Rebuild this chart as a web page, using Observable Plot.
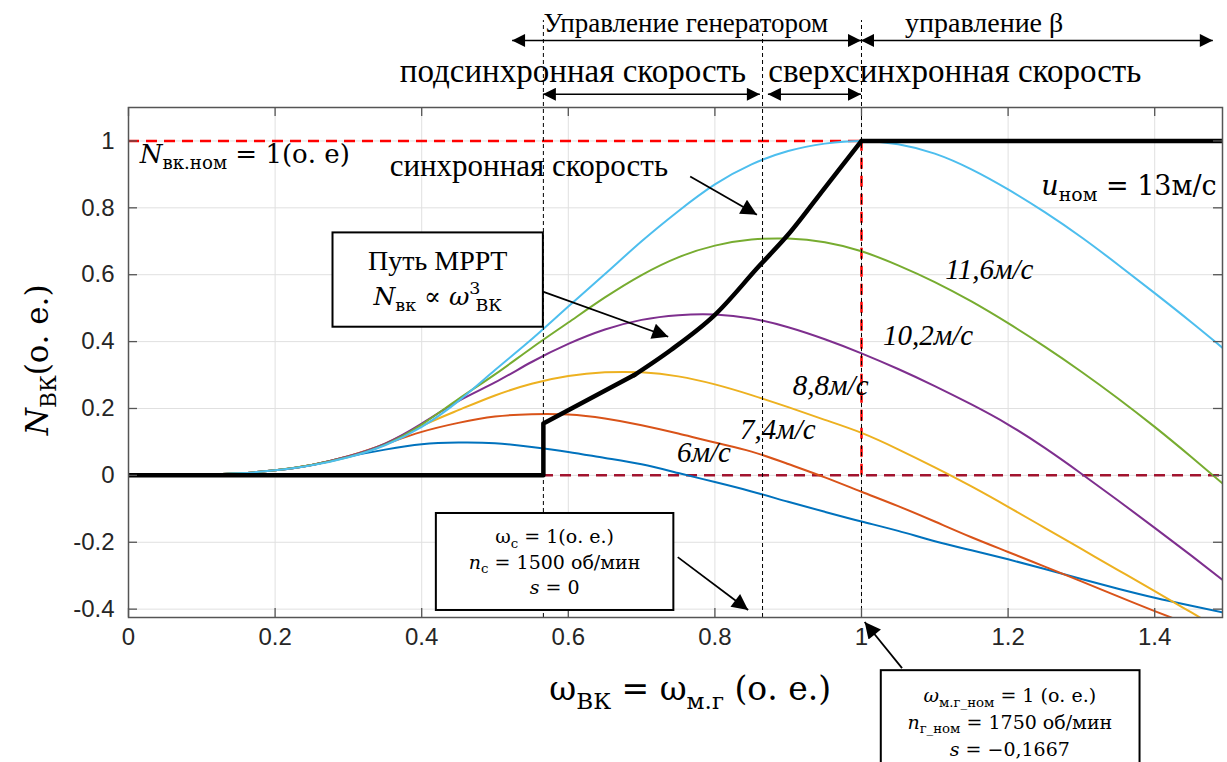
<!DOCTYPE html>
<html>
<head>
<meta charset="utf-8">
<script src="https://cdn.jsdelivr.net/npm/d3@7"></script>
<script src="https://cdn.jsdelivr.net/npm/@observablehq/plot@0.6"></script>
<style>
html,body{margin:0;padding:0;background:#fff;}
#chart{width:1227px;height:762px;overflow:hidden;}
</style>
</head>
<body>
<div id="chart"></div>
<script>
// ---------- data ----------
const xTicks = [0, 0.2, 0.4, 0.6, 0.8, 1, 1.2, 1.4];
const yTicks = [-0.4, -0.2, 0, 0.2, 0.4, 0.6, 0.8, 1];

const speeds = ["6м/с", "7,4м/с", "8,8м/с", "10,2м/с", "11,6м/с", "13м/с"];
const speedColors = ["#0072BD", "#D95319", "#EDB120", "#7E2F8E", "#77AC30", "#4DBEEE"];

const omega = [0,0.05,0.1,0.15,0.2,0.25,0.3,0.35,0.4,0.45,0.5,0.55,0.6,0.65,0.7,0.75,0.8,0.85,0.9,0.95,1,1.05,1.1,1.15,1.2,1.25,1.3,1.35,1.4,1.45,1.5];
const power6   = [0,0,0.002,0.006,0.015,0.031,0.056,0.077,0.093,0.098,0.096,0.085,0.070,0.052,0.033,0.007,-0.020,-0.048,-0.079,-0.109,-0.138,-0.166,-0.197,-0.224,-0.251,-0.280,-0.310,-0.339,-0.366,-0.390,-0.413];
const power74  = [0,0,0.002,0.006,0.015,0.031,0.057,0.093,0.130,0.157,0.176,0.183,0.182,0.170,0.150,0.125,0.098,0.071,0.034,-0.006,-0.049,-0.092,-0.138,-0.185,-0.229,-0.273,-0.317,-0.362,-0.406,-0.448,-0.490];
const power88  = [0,0,0.002,0.006,0.015,0.031,0.057,0.095,0.148,0.195,0.239,0.274,0.297,0.308,0.308,0.296,0.272,0.240,0.204,0.166,0.127,0.078,0.024,-0.033,-0.094,-0.157,-0.220,-0.283,-0.346,-0.410,-0.474];
const power102 = [0,0,0.002,0.006,0.015,0.031,0.057,0.095,0.155,0.222,0.278,0.339,0.393,0.436,0.465,0.479,0.481,0.469,0.443,0.407,0.365,0.318,0.267,0.212,0.152,0.082,0.005,-0.075,-0.157,-0.240,-0.325];
const power116 = [0,0,0.002,0.006,0.015,0.031,0.055,0.092,0.152,0.228,0.302,0.381,0.457,0.532,0.599,0.652,0.687,0.705,0.708,0.697,0.670,0.628,0.578,0.520,0.455,0.385,0.310,0.230,0.145,0.055,-0.038];
const power13  = [0,0,0.002,0.006,0.015,0.030,0.054,0.090,0.145,0.222,0.315,0.407,0.505,0.602,0.700,0.790,0.870,0.930,0.970,0.992,1.0,0.990,0.962,0.915,0.855,0.787,0.712,0.630,0.545,0.458,0.368];
const powerSeries = [power6, power74, power88, power102, power116, power13];

const mpptOmega = [0, 0.566, 0.566, 0.69, 0.74, 0.80, 0.86, 0.90, 0.95, 1.0, 1.5];
const mpptPower = [0, 0, 0.155, 0.30, 0.375, 0.48, 0.625, 0.72, 0.86, 1.0, 1.0];

const nominalPower = 1;
const nominalOmega = 1;
const guideOmega = [0.566, 0.865, 1.0];
const guideTop = [1.36, 1.32, 1.36];

const xDomain = [0, 1.4925];
const yDomain = [-0.425, 1.1];

// ---------- tidy tables ----------
const curves = speeds.flatMap((s, i) => omega.map((w, j) => ({w, p: powerSeries[i][j], s})));
const mppt = mpptOmega.map((w, i) => ({w, p: mpptPower[i]}));
const mpptStep = mppt.slice(0, 4);   // zero line, jump, straight segment
const mpptCubic = mppt.slice(3, 10); // cubic MPPT part
const mpptFlat = mppt.slice(9);      // rated power
const guides = guideOmega.map((w, i) => ({w, top: guideTop[i]}));

const W = 1227, H = 762, mL = 128, mR = 5, mT = 107, mB = 145;
const plotH = H - mT - mB, plotW = W - mL - mR;

const chart = Plot.plot({
  width: W, height: H,
  marginLeft: mL, marginRight: mR, marginTop: mT, marginBottom: mB,
  style: {fontFamily: "Liberation Sans, Arial, sans-serif", fontSize: "24px", color: "#262626", background: "#fff", overflow: "visible"},
  x: {domain: xDomain},
  y: {domain: yDomain},
  color: {domain: speeds, range: speedColors},
  marks: [
    Plot.ruleX(xTicks, {stroke: "#e0e0e0", strokeWidth: 1}),
    Plot.ruleY(yTicks, {stroke: "#e0e0e0", strokeWidth: 1}),
    Plot.ruleY([0], {x1: xDomain[0], x2: xDomain[1], stroke: "#A2142F", strokeWidth: 2.5, strokeDasharray: "11,7"}),
    Plot.ruleY([nominalPower], {x1: 0, x2: nominalOmega, stroke: "#FF0000", strokeWidth: 2.5, strokeDasharray: "11,7"}),
    Plot.ruleX([nominalOmega], {y1: 0, y2: nominalPower, stroke: "#FF0000", strokeWidth: 2.5, strokeDasharray: "11,7"}),
    Plot.line(curves, {x: "w", y: "p", z: "s", stroke: "s", strokeWidth: 2, curve: "natural", clip: true}),
    Plot.ruleX(guides, {x: "w", y1: yDomain[0], y2: "top", stroke: "#000", strokeWidth: 1, strokeDasharray: "4,3"}),
    Plot.line(mpptStep, {x: "w", y: "p", stroke: "#000", strokeWidth: 4.5, strokeLinejoin: "round", clip: true}),
    Plot.line(mpptCubic, {x: "w", y: "p", stroke: "#000", strokeWidth: 4.5, curve: "monotone-x", clip: true}),
    Plot.line(mpptFlat, {x: "w", y: "p", stroke: "#000", strokeWidth: 4.5, clip: true}),
    Plot.frame({stroke: "#555", strokeWidth: 1.5}),
    Plot.ruleX(xTicks, {stroke: "#555", strokeWidth: 1.3, insetTop: plotH - 9}),
    Plot.ruleX(xTicks, {stroke: "#555", strokeWidth: 1.3, insetBottom: plotH - 9}),
    Plot.ruleY(yTicks, {stroke: "#555", strokeWidth: 1.3, insetRight: plotW - 9}),
    Plot.ruleY(yTicks, {stroke: "#555", strokeWidth: 1.3, insetLeft: plotW - 9}),
    Plot.axisX({ticks: xTicks, tickFormat: d => String(d), tickSize: 0, tickPadding: 10, label: null}),
    Plot.axisY({ticks: yTicks, tickFormat: d => String(d), tickSize: 0, tickPadding: 14, label: null})
  ]
});
document.getElementById("chart").appendChild(chart);

// ---------- annotations positioned through Plot's scales ----------
const X = chart.scale("x"), Y = chart.scale("y");
const px = v => X.apply(v), py = v => Y.apply(v);
const svg = d3.select(chart);
const defs = svg.append("defs");
function marker(id, len, wid) {
  defs.append("marker").attr("id", id).attr("viewBox", "0 0 10 10")
    .attr("refX", 10).attr("refY", 5).attr("markerWidth", len).attr("markerHeight", wid)
    .attr("markerUnits", "userSpaceOnUse").attr("orient", "auto-start-reverse")
    .append("path").attr("d", "M0,0L10,5L0,10Z").attr("fill", "#000");
}
marker("ahSmall", 15, 13);
marker("ahBig", 20, 16);

const ann = svg.append("g");
const SERIF = "Liberation Serif, Times New Roman, serif";
const MATH = "DejaVu Serif, serif";

function arrow(x1, y1, x2, y2, {w = 1.5, start = false, m = "ahSmall"} = {}) {
  ann.append("line").attr("x1", px(x1)).attr("y1", py(y1)).attr("x2", px(x2)).attr("y2", py(y2))
    .attr("stroke", "#000").attr("stroke-width", w)
    .attr("marker-end", `url(#${m})`).attr("marker-start", start ? `url(#${m})` : null);
}
function box(x1, x2, y1, y2) {
  ann.append("rect").attr("x", px(x1)).attr("y", py(y1)).attr("width", px(x2) - px(x1)).attr("height", py(y2) - py(y1))
    .attr("fill", "#fff").attr("stroke", "#000").attr("stroke-width", 2);
}
function rich(x, y, parts, {size = 24, family = MATH, anchor = "start", rotate = 0, italic = false} = {}) {
  const t = ann.append("text").attr("font-family", family).attr("font-size", size)
    .attr("text-anchor", anchor).attr("fill", "#000")
    .attr("transform", `translate(${x},${y})` + (rotate ? ` rotate(${rotate})` : ""));
  if (italic) t.attr("font-style", "italic");
  let shift = 0;
  for (const p of parts) {
    const s = t.append("tspan").text(p.t);
    let target = 0, fs = size;
    if (p.sub) { target = size * 0.25; fs = size * 0.7; }
    if (p.sup) { target = -size * 0.42; fs = size * 0.7; }
    s.attr("font-size", fs);
    if (target !== shift) { s.attr("dy", target - shift); shift = target; }
    if (p.italic) s.attr("font-style", "italic");
    if (p.dx) s.attr("dx", p.dx);
  }
  return t;
}

// top region
rich(px(0.761), py(1.323), [{t: "Управление генератором"}], {size: 27, family: SERIF, anchor: "middle"});
rich(px(1.168), py(1.323), [{t: "управление β"}], {size: 28, family: SERIF, anchor: "middle"});
arrow(0.524, 1.299, 1.0, 1.299, {start: true});
arrow(1.0, 1.299, 1.480, 1.299, {start: true});
rich(px(0.607), py(1.174), [{t: "подсинхронная скорость"}], {size: 33, family: SERIF, anchor: "middle"});
rich(px(1.128), py(1.174), [{t: "сверхсинхронная скорость"}], {size: 33, family: SERIF, anchor: "middle"});
arrow(0.566, 1.138, 0.862, 1.138, {start: true});
arrow(0.873, 1.138, 1.0, 1.138, {start: true});

// inside plot
rich(px(0.016), py(0.934), [{t: "N", italic: true}, {t: "вк.ном", sub: true}, {t: " = 1(о. е)"}], {size: 26});
rich(px(0.357), py(0.895), [{t: "синхронная скорость"}], {size: 31, family: SERIF});
arrow(0.767, 0.892, 0.858, 0.778, {w: 1.8, m: "ahBig"});
rich(px(1.246), py(0.838), [{t: "u", italic: true}, {t: "ном", sub: true}, {t: " = 13м/с"}], {size: 27});

box(0.279, 0.566, 0.725, 0.443);
rich(px(0.4225), py(0.614), [{t: "Путь MPPT"}], {size: 28, family: SERIF, anchor: "middle"});
rich(px(0.4225), py(0.509), [{t: "N", italic: true}, {t: "вк", sub: true}, {t: " ∝ "}, {t: "ω", italic: true}, {t: "3", sup: true}, {t: "ВК", sub: true, dx: -5}], {size: 25, anchor: "middle"});
arrow(0.566, 0.548, 0.737, 0.413, {w: 1.8, m: "ahBig"});

const speedLabelX = [0.749, 0.835, 0.907, 1.030, 1.115];
const speedLabelY = [0.039, 0.108, 0.240, 0.389, 0.587];
speeds.slice(0, 5).forEach((s, i) => rich(px(speedLabelX[i]), py(speedLabelY[i]), [{t: s}], {size: 29, family: SERIF, italic: true}));

box(0.420, 0.744, -0.114, -0.404);
rich(px(0.582), py(-0.204), [{t: "ω"}, {t: "с", sub: true}, {t: " = 1(о. е.)"}], {size: 19, anchor: "middle"});
rich(px(0.582), py(-0.280), [{t: "n", italic: true}, {t: "с", sub: true}, {t: " = 1500 об/мин"}], {size: 19, anchor: "middle"});
rich(px(0.582), py(-0.355), [{t: "s", italic: true}, {t: " = 0"}], {size: 19, anchor: "middle"});
arrow(0.750, -0.246, 0.846, -0.404, {w: 1.8, m: "ahBig"});

box(1.027, 1.380, -0.584, -0.9);
rich(px(1.203), py(-0.680), [{t: "ω", italic: true}, {t: "м.г_ном", sub: true}, {t: " = 1 (о. е.)"}], {size: 19, anchor: "middle"});
rich(px(1.203), py(-0.759), [{t: "n", italic: true}, {t: "г_ном", sub: true}, {t: " = 1750 об/мин"}], {size: 19, anchor: "middle"});
rich(px(1.203), py(-0.840), [{t: "s", italic: true}, {t: " = −0,1667"}], {size: 19, anchor: "middle"});
arrow(1.056, -0.578, 1.005, -0.440, {w: 1.8, m: "ahBig"});

// axis titles
rich(px(0.767), py(-0.674), [{t: "ω"}, {t: "ВК", sub: true}, {t: " = ω"}, {t: "м.г", sub: true}, {t: " (о. е.)"}], {size: 33, anchor: "middle"});
rich(48, py(0.344), [{t: "N", italic: true}, {t: "ВК", sub: true}, {t: "(о. е.)"}], {size: 31, anchor: "middle", rotate: -90});
</script>
</body>
</html>
